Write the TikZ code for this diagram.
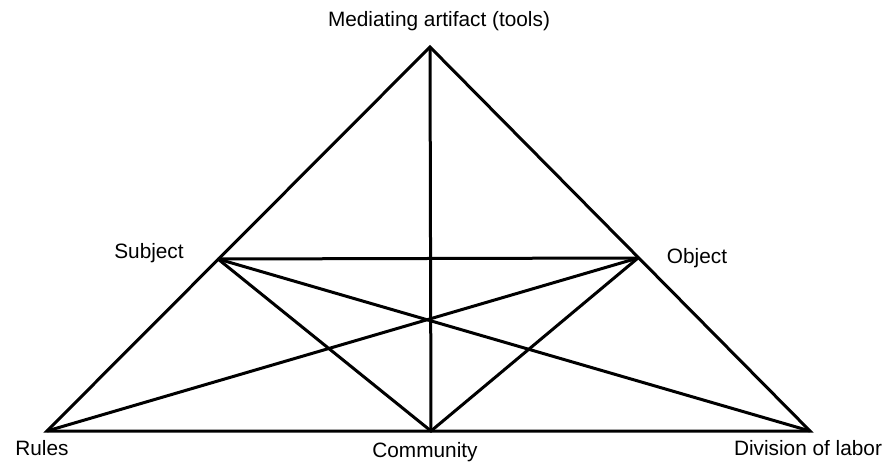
\documentclass[tikz,border=0pt]{standalone}
\usepackage{fontspec}
\setmainfont{Liberation Sans}
\begin{document}
\begin{tikzpicture}[x=1pt,y=-1pt,
  edge/.style={line width=3pt, line join=miter},
  lab/.style={font=\fontsize{20.8}{24}\selectfont, inner sep=0pt, anchor=base}]
\useasboundingbox (0,0) rectangle (884,462);
\coordinate (A) at (430,47);
\coordinate (S) at (218,259);
\coordinate (O) at (638,258);
\coordinate (R) at (47,431);
\coordinate (C) at (431,431);
\coordinate (D) at (810,431);
\draw[edge] (A) -- (R) -- (D) -- cycle;
\draw[edge] (S) -- (O);
\draw[edge] (A) -- (C);
\draw[edge] (S) -- (C) -- (O);
\draw[edge] (S) -- (D);
\draw[edge] (R) -- (O);
\node[lab] (lA) at (439,27) {Mediating artifact (tools)};
\node[lab] (lS) at (149,259) {Subject};
\node[lab] (lO) at (697,264) {Object};
\node[lab] (lR) at (42,455) {Rules};
\node[lab] (lC) at (425,457) {Community};
\node[lab] (lD) at (808,455) {Division of labor};
\end{tikzpicture}
\end{document}
